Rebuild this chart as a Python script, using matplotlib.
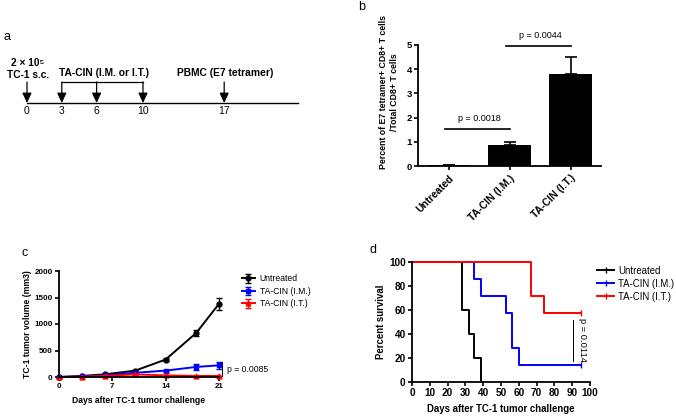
"""
Four-panel figure: treatment timeline (a), E7 tetramer+ CD8+ T cells (b),
TC-1 tumor growth (c) and survival after tumor challenge (d).
"""
import numpy as np
import matplotlib
matplotlib.use("Agg")
import matplotlib.pyplot as plt

plt.rcParams["font.family"] = ["Liberation Sans", "DejaVu Sans"]

W, H = 676, 417

# ---- panel a: schedule
sched_days = [0, 3, 6, 10, 17]
sched_ticks = ["0", "3", "6", "10", "17"]
vacc_days = [3, 6, 10]

# ---- panel b: tetramer staining
groups = ["Untreated", "TA-CIN (I.M.)", "TA-CIN (I.T.)"]
tet_mean = [0.05, 0.85, 3.8]
tet_err = [0.0, 0.15, 0.7]

# ---- panel c: tumor volume
days_c = [0, 3, 6, 10, 14, 18, 21]
vol_untreated = [0, 20, 50, 120, 330, 830, 1380]
err_untreated = [0, 5, 10, 15, 20, 60, 120]
vol_im = [0, 10, 30, 80, 120, 190, 220]
err_im = [0, 5, 8, 15, 20, 50, 60]
vol_it = [0, 5, 20, 50, 30, 20, 20]
err_it = [0, 3, 5, 10, 8, 5, 5]

# ---- panel d: survival
t_untreated = [0, 28, 32, 35, 39]
s_untreated = [100, 60, 40, 20, 0]
t_im = [0, 35, 39, 53, 56, 60, 95]
s_im = [100, 85.7, 71.4, 57.1, 28.6, 14.3, 14.3]
t_it = [0, 67, 74, 95]
s_it = [100, 71.4, 57.1, 57.1]

BLUE = "#0000ff"
RED = "#ff0000"


def px_axes(fig, left, top, right, bottom):
    """Axes placed by pixel box of the 676x417 canvas."""
    return fig.add_axes([left / W, 1 - bottom / H, (right - left) / W, (bottom - top) / H])


def prism_style(ax, fs):
    for s in ("top", "right"):
        ax.spines[s].set_visible(False)
    for s in ("left", "bottom"):
        ax.spines[s].set_linewidth(1.3)
    ax.tick_params(width=1.2, length=3, labelsize=fs, pad=1.5)
    for lab in ax.get_xticklabels() + ax.get_yticklabels():
        lab.set_fontweight("bold")


fig = plt.figure(figsize=(W / 100, H / 100), dpi=100)

# ================= a: timeline =================
pxd = 11.6  # pixels per day
ax_a = px_axes(fig, 0, 45, 340, 135)
ax_a.set_xlim(-27 / pxd, (340 - 27) / pxd)
ax_a.set_ylim(0, 90)  # pixel-ish units, 0 at bottom
ax_a.axis("off")
y_axis = 135 - 103
y_top = 135 - 82
ax_a.plot([0, (298 - 27) / pxd], [y_axis, y_axis], color="black", lw=1.0)
for d, lab in zip(sched_days, sched_ticks):
    ax_a.annotate("", xy=(d, y_axis), xytext=(d, y_top),
                  arrowprops=dict(arrowstyle="-|>,head_width=0.28,head_length=0.6",
                                  color="black", lw=0.9, shrinkA=0, shrinkB=0))
    ax_a.text(d, 135 - 111, lab, ha="center", va="center", fontsize=7.5)
ax_a.plot([vacc_days[0], vacc_days[-1]], [y_top, y_top], color="black", lw=0.9)
ax_a.text(0.05, 135 - 63, "2 × 10⁵", ha="center", va="center",
          fontsize=7.3, fontweight="bold")
ax_a.text(0.05, 135 - 75, "TC-1 s.c.", ha="center", va="center",
          fontsize=7.3, fontweight="bold")
ax_a.text(2.8, 135 - 73, "TA-CIN (I.M. or I.T.)", ha="left", va="center",
          fontsize=7.4, fontweight="bold")
ax_a.text(17.1, 135 - 73, "PBMC (E7 tetramer)", ha="center", va="center",
          fontsize=7.4, fontweight="bold")

# ================= b: bars =================
ax_b = px_axes(fig, 418, 45, 601, 166)
xb = np.arange(len(groups))
ax_b.bar(xb, tet_mean, width=0.69, color="black", zorder=2)
ax_b.errorbar(xb, tet_mean, yerr=[np.zeros(3), tet_err], fmt="none",
              ecolor="black", elinewidth=1.2, capsize=4, capthick=1.2, zorder=1)
ax_b.set_xlim(-0.5, 2.5)
ax_b.set_ylim(0, 5)
ax_b.set_yticks(range(6))
ax_b.set_xticks(xb)
ax_b.set_xticklabels(groups, rotation=45, ha="right", rotation_mode="anchor")
ax_b.set_ylabel("Percent of E7 tetramer+ CD8+ T cells\n/Total CD8+ T cells",
                fontsize=6.3, fontweight="bold", linespacing=1.3)
ax_b.yaxis.set_label_coords(-0.105, 0.61)
prism_style(ax_b, 6.8)
ax_b.tick_params(axis="x", pad=2, labelsize=7.4)
ax_b.plot([-0.05, 1.0], [1.53, 1.53], color="black", lw=1.2, clip_on=False)
ax_b.text(0.5, 1.95, "p = 0.0018", ha="center", va="center", fontsize=6.5)
ax_b.plot([0.95, 2.0], [4.95, 4.95], color="black", lw=1.2, clip_on=False)
ax_b.text(1.5, 5.38, "p = 0.0044", ha="center", va="center", fontsize=6.5)

# ================= c: tumor growth =================
ax_c = px_axes(fig, 59, 271, 219, 377)
kw = dict(lw=1.4, ms=3.5, capsize=2.5, elinewidth=1.0, capthick=1.0, clip_on=False)
ax_c.errorbar(days_c, vol_untreated, yerr=err_untreated, color="black", marker="o",
              label="Untreated", **kw)
ax_c.errorbar(days_c, vol_im, yerr=err_im, color=BLUE, marker="s",
              label="TA-CIN (I.M.)", **kw)
ax_c.errorbar(days_c, vol_it, yerr=err_it, color=RED, marker="^",
              label="TA-CIN (I.T.)", **kw)
ax_c.set_xlim(0, 21)
ax_c.set_ylim(0, 2000)
ax_c.set_xticks([0, 7, 14, 21])
ax_c.set_yticks([0, 500, 1000, 1500, 2000])
ax_c.set_xlabel("Days after TC-1 tumor challenge", fontsize=6.2, fontweight="bold",
                labelpad=4)
ax_c.set_ylabel("TC-1 tumor volume (mm3)", fontsize=6.2, fontweight="bold", labelpad=2)
prism_style(ax_c, 5.8)
ax_c.plot([21.4, 21.4], [15, 275], color="black", lw=0.7, clip_on=False)
ax_c.text(22.0, 140, "p = 0.0085", ha="left", va="center", fontsize=6.2)
ax_c.legend(loc="upper left", bbox_to_anchor=(1.12, 1.0), frameon=False,
            fontsize=6.2, handlelength=1.5, handletextpad=0.6, labelspacing=0.4,
            borderaxespad=0)

# ================= d: survival =================
ax_d = px_axes(fig, 412, 262, 590, 382)
for t, s, c, lab in ((t_untreated, s_untreated, "black", "Untreated"),
                     (t_im, s_im, BLUE, "TA-CIN (I.M.)"),
                     (t_it, s_it, RED, "TA-CIN (I.T.)")):
    ax_d.step(t, s, where="post", color=c, lw=1.4, label=lab, clip_on=False,
              marker="|", markevery=[len(t) - 1] if s[-1] > 0 else [], ms=4)
ax_d.set_xlim(0, 100)
ax_d.set_ylim(0, 100)
ax_d.set_xticks(range(0, 101, 10))
ax_d.set_yticks(range(0, 101, 20))
ax_d.set_xlabel("Days after TC-1 tumor challenge", fontsize=6.9, fontweight="bold",
                labelpad=4)
ax_d.set_ylabel("Percent survival", fontsize=6.9, fontweight="bold", labelpad=2)
prism_style(ax_d, 7.2)
ax_d.plot([90.3, 90.3], [17.5, 51.5], color="black", lw=0.7)
ax_d.text(96.0, 35, "p = 0.0114", rotation=270, ha="center", va="center", fontsize=6.7)
leg = ax_d.legend(loc="upper left", bbox_to_anchor=(1.02, 1.0), frameon=False,
                  fontsize=6.9, handlelength=1.7, handletextpad=0.5, labelspacing=0.3,
                  borderaxespad=0)

# panel letters
for lab, x, y in (("a", 4, 37), ("b", 358, 7), ("c", 22, 253), ("d", 370, 250)):
    fig.text(x / W, 1 - y / H, lab, ha="left", va="center", fontsize=9)

fig.savefig("out.png", dpi=100)
